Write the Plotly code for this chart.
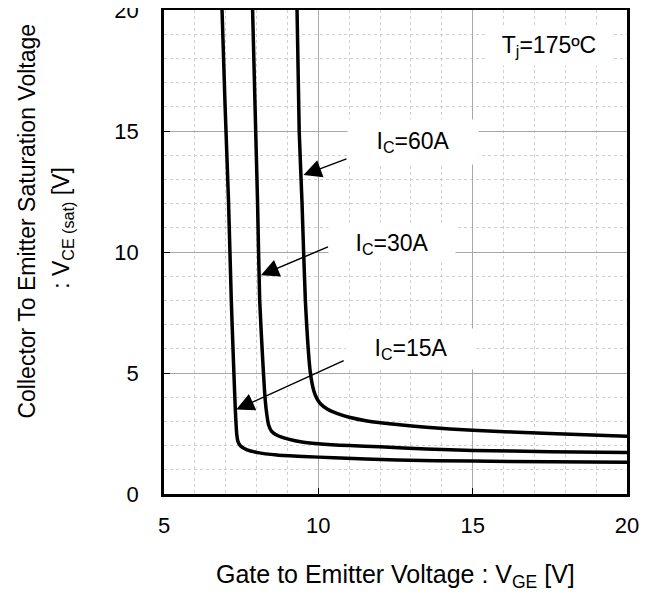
import plotly.graph_objects as go

# gate to emitter voltage VGE [V] vs saturation voltage VCE(sat) [V], Tj=175C
vge_15a = [6.88, 6.98, 7.09, 7.18, 7.25, 7.31, 7.36, 7.40, 7.48, 7.69, 8.0, 8.66, 9.5, 10.5, 12.55, 15, 17.5, 20]
vce_15a = [20, 16, 12.1, 8, 5.5, 3.5, 2.43, 2.15, 1.98, 1.82, 1.72, 1.61, 1.55, 1.5, 1.4, 1.36, 1.33, 1.31]

vge_30a = [7.87, 7.95, 8.03, 8.10, 8.20, 8.28, 8.34, 8.39, 8.48, 8.66, 9.0, 9.42, 10.0, 11.0, 12.0, 13.5, 15, 17.5, 20]
vce_30a = [20, 16, 12.1, 8, 5.5, 3.87, 3.2, 2.85, 2.6, 2.43, 2.28, 2.16, 2.08, 2.0, 1.95, 1.86, 1.80, 1.75, 1.71]

vge_60a = [9.31, 9.38, 9.47, 9.58, 9.74, 9.85, 9.95, 10.06, 10.3, 10.6, 11.0, 11.58, 12.55, 13.5, 15, 17.5, 20]
vce_60a = [20, 15, 12.1, 7.98, 5.03, 4.28, 3.95, 3.74, 3.5, 3.33, 3.17, 3.02, 2.87, 2.76, 2.63, 2.5, 2.39]

x_ticks = [5, 10, 15, 20]
y_ticks = [0, 5, 10, 15, 20]

FONT = "Liberation Sans, Arial, sans-serif"

fig = go.Figure()
for xs, ys, nm in [(vge_15a, vce_15a, "IC=15A"), (vge_30a, vce_30a, "IC=30A"), (vge_60a, vce_60a, "IC=60A")]:
    fig.add_trace(go.Scatter(x=xs, y=ys, mode="lines", name=nm,
                             line=dict(color="black", width=3.5, shape="spline", smoothing=0.5)))

# labels with white boxes (they hide the grid behind them)
labels = [
    ("T<sub>j</sub>=175ºC", 17.48, 18.53, 128, 38),
    ("I<sub>C</sub>=60A", 13.08, 14.55, 130, 44),
    ("I<sub>C</sub>=30A", 12.40, 10.32, 126, 36),
    ("I<sub>C</sub>=15A", 13.01, 5.99, 130, 40),
]
for txt, x, y, w, h in labels:
    fig.add_annotation(x=x, y=y, xref="x", yref="y", text=txt, showarrow=False,
                       bgcolor="white", width=w, height=h, borderpad=0,
                       font=dict(family=FONT, size=23, color="black"))

# arrows: (tail x, tail y, tip x, tip y)
arrows = [
    (10.96, 13.87, 9.52, 13.18),
    (10.36, 10.24, 8.14, 9.04),
    (10.87, 5.54, 7.34, 3.49),
]
for tx, ty, hx, hy in arrows:
    fig.add_annotation(x=hx, y=hy, ax=tx, ay=ty, xref="x", yref="y", axref="x", ayref="y",
                       text="", showarrow=True, arrowhead=2, arrowsize=2.4, arrowwidth=1.5,
                       arrowcolor="black", standoff=0)

fig.add_annotation(x=-0.298, y=0.563, xref="paper", yref="paper", textangle=-90,
                   text="Collector To Emitter Saturation Voltage", showarrow=False,
                   xanchor="center", yanchor="middle",
                   font=dict(family=FONT, size=23, color="black"))
fig.add_annotation(x=-0.218, y=0.55, xref="paper", yref="paper", textangle=-90,
                   text=": V<sub>CE (sat)</sub> [V]", showarrow=False,
                   xanchor="center", yanchor="middle",
                   font=dict(family=FONT, size=23, color="black"))
fig.add_annotation(x=0.499, y=-0.204, xref="paper", yref="paper",
                   text="Gate to Emitter Voltage : V<sub>GE</sub> [V]", showarrow=False,
                   xanchor="center", yanchor="bottom", borderpad=0,
                   font=dict(family=FONT, size=25, color="black"))

axis_common = dict(showline=True, linecolor="black", linewidth=2.5, mirror=True,
                   ticks="inside", ticklen=6, tickcolor="black", tickwidth=1,
                   showgrid=True, gridcolor="#a8a8a8", gridwidth=1,
                   zeroline=False, ticklabeloverflow="allow", automargin=False,
                   tickfont=dict(family=FONT, size=22, color="black"))

fig.update_xaxes(range=[5, 20], tickvals=x_ticks, ticklabelstandoff=10,
                 minor=dict(dtick=1, showgrid=True, gridcolor="#cfcfcf", griddash="dot", gridwidth=1),
                 **axis_common)
fig.update_yaxes(range=[0, 20], tickvals=y_ticks, ticklabelstandoff=18,
                 minor=dict(dtick=1, showgrid=True, gridcolor="#cfcfcf", griddash="dot", gridwidth=1),
                 **axis_common)

# page body has an 8px margin, so the figure is a bit smaller than the window
fig.update_layout(width=634, height=586, showlegend=False,
                  margin=dict(l=156, r=15, t=2, b=100),
                  plot_bgcolor="white", paper_bgcolor="white",
                  font=dict(family=FONT, size=22, color="black"))

fig.write_html("out.html")
